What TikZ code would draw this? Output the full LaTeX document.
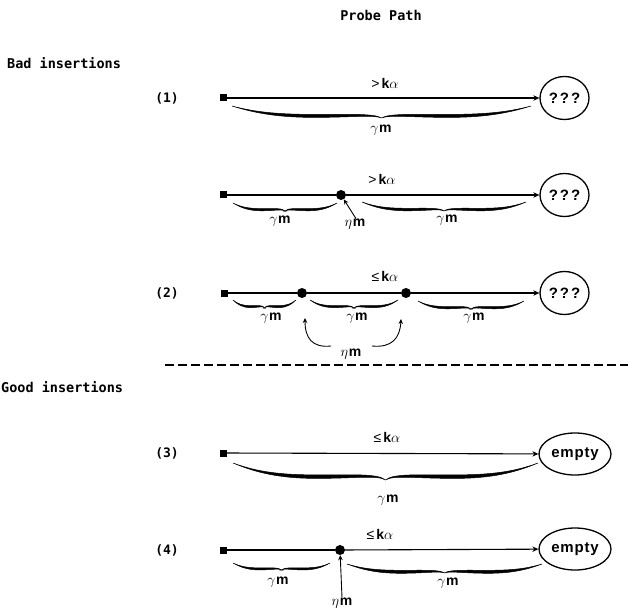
\documentclass[tikz,border=0pt]{standalone}
\usepackage{fontspec}
\usetikzlibrary{arrows.meta,shapes.geometric}
\newfontfamily\monofam{DejaVu Sans Mono}
\newfontfamily\sansfam{Liberation Sans}

% labels set in the probe-path figure
\newcommand\gmlab{$\gamma$\kern0.8pt{\sansfam\bfseries\fontsize{14}{14}\selectfont m}}
\newcommand\etalab{$\eta$\kern0.8pt{\sansfam\bfseries\fontsize{14}{14}\selectfont m}}
\newcommand\gtklab{{\sansfam\fontsize{14}{14}\selectfont >\kern2pt\bfseries k}$\alpha$}
\newcommand\leklab{{\sansfam\fontsize{14}{14}\selectfont ≤\kern2pt\bfseries k}$\alpha$}
\newcommand\unknown{?\kern2pt?\kern2pt?}
\newcommand\emptyslot{e\kern0.8pt m\kern0.8pt p\kern0.8pt t\kern0.8pt y}

% one half of a pen-drawn curly brace: end x, direction, half length, top y, depth, thickness
\newcommand\bracearm[6]{%
 \filldraw[brk] ({#1},{#4})
  .. controls ({#1+(#2)*0.15*#3},{#4+0.5*#5}) and ({#1+(#2)*0.3*#3},{#4+0.7*#5}) .. ({#1+(#2)*0.55*#3},{#4+0.7*#5})
  .. controls ({#1+(#2)*0.8*#3},{#4+0.7*#5}) and ({#1+(#2)*0.95*#3},{#4+0.62*#5}) .. ({#1+(#2)*#3},{#4+#5})
  .. controls ({#1+(#2)*0.95*#3},{#4+0.62*#5+0.4*#6}) and ({#1+(#2)*0.8*#3},{#4+0.7*#5+#6}) .. ({#1+(#2)*0.55*#3},{#4+0.7*#5+#6})
  .. controls ({#1+(#2)*0.3*#3},{#4+0.7*#5+#6}) and ({#1+(#2)*0.15*#3},{#4+0.5*#5+0.3*#6}) .. ({#1},{#4}) -- cycle;}
% full brace: left x, right x, top y, depth, thickness
\newcommand\curlybrace[5]{%
  \pgfmathsetmacro\cbL{(#2-#1)/2}%
  \bracearm{#1}{1}{\cbL}{#3}{#4}{#5}%
  \bracearm{#2}{-1}{\cbL}{#3}{#4}{#5}}

\tikzset{
 lbl/.style={font=\monofam\bfseries\fontsize{13.5}{13.5}\selectfont, inner sep=0},
 tag/.style={font=\monofam\bfseries\fontsize{13}{13}\selectfont, inner sep=0},
 sym/.style={inner sep=0, font=\fontsize{15}{15}\selectfont},
 endbox/.style={draw, ellipse, line width=1.3pt, inner sep=0, minimum width=49pt, minimum height=43pt,
   font=\sansfam\bfseries\fontsize{15}{15}\selectfont},
 emptybox/.style={endbox, minimum width=72pt, minimum height=42pt, font=\sansfam\bfseries\fontsize{15}{15}\selectfont},
 startsq/.style={fill, rectangle, minimum size=7pt, inner sep=0},
 pdot/.style={fill, circle, minimum size=10pt, inner sep=0},
 probe/.style={line width=1.1pt},
 probeend/.style={probe, -{Stealth[length=6pt,width=5.5pt]}},
 pointer/.style={line width=0.9pt, -{Stealth[length=5pt,width=4.5pt]}},
 brk/.style={line width=0.5pt},
 divider/.style={line width=1.1pt, dash pattern=on 9pt off 4pt},
}

\begin{document}
\begin{tikzpicture}[x=1pt,y=-1pt]
\useasboundingbox (0,0) rectangle (628,612);

\node[lbl] (title) at (381,15) {Probe Path};
\node[lbl, anchor=west] (bad) at (7,63) {Bad insertions};

% (1) a single long probe
\node[tag] (n1) at (167,98) {(1)};
\node[startsq] (s1) at (223,98) {};
\node[endbox] (q1) at (564.5,98) {\unknown};
\draw[probeend] (s1) -- (q1);
\node[sym] (k1) at (385,83) {\gtklab};
\curlybrace{232}{531}{106}{12}{3}
\node[sym] (g1) at (381,130) {\gmlab};

% long probe with one inserted element
\node[startsq] (s2) at (223,195) {};
\node[pdot] (d2) at (341,195) {};
\node[endbox] (q2) at (564.5,195) {\unknown};
\draw[probe] (s2) -- (d2);
\draw[probeend] (d2) -- (q2);
\node[sym] (k2) at (382,179) {\gtklab};
\curlybrace{233}{337}{203}{8}{2.2}
\node[sym] (g2a) at (280,221) {\gmlab};
\curlybrace{362}{526}{202}{9}{2.5}
\node[sym] (g2b) at (447,220) {\gmlab};
\node[sym] (e2) at (355,224) {\etalab};
\draw[pointer] ([xshift=1pt]e2.north) -- (d2);

% (2) short probe with two inserted elements
\node[tag] (n3) at (167,293) {(2)};
\node[startsq] (s3) at (224,293) {};
\node[pdot] (d3a) at (302,293) {};
\node[pdot] (d3b) at (406,293) {};
\node[endbox] (q3) at (564.5,293) {\unknown};
\draw[probe] (s3) -- (d3a);
\draw[probe] (d3a) -- (d3b);
\draw[probeend] (d3b) -- (q3);
\node[sym] (k3) at (385,276) {\leklab};
\curlybrace{233}{296}{300}{8}{2}
\curlybrace{310}{398}{300}{8}{2}
\curlybrace{418}{524}{301}{8}{2.2}
\node[sym] (g3a) at (271,318) {\gmlab};
\node[sym] (g3b) at (357,318) {\gmlab};
\node[sym] (g3c) at (474,318) {\gmlab};
\node[sym] (e3) at (351,354) {\etalab};
\coordinate (e3l) at (331,346);
\coordinate (e3r) at (372,346);
\coordinate (t3a) at (305,318);
\coordinate (t3b) at (401,319);
\draw[pointer] (e3l) .. controls (312,348) and (305,338) .. (t3a);
\draw[pointer] (e3r) .. controls (392,348) and (400,338) .. (t3b);

% divider between the two groups
\coordinate (dl) at (165,365);
\coordinate (dr) at (628,365);
\draw[divider] (dl) -- (dr);

\node[lbl, anchor=west] (good) at (1,387) {Good insertions};

% (3) short probe ending in an empty slot
\node[tag] (n4) at (167,453) {(3)};
\node[startsq] (s4) at (223,453) {};
\node[emptybox] (q4) at (575,454) {\emptyslot};
\draw[probeend] (s4) -- (q4);
\node[sym] (k4) at (387,437) {\leklab};
\curlybrace{233}{538}{463}{17}{3.5}
\node[sym] (g4) at (388,500) {\gmlab};

% (4) short probe with one insertion ending in an empty slot
\node[tag] (n5) at (167,550) {(4)};
\node[startsq] (s5) at (223,550) {};
\node[pdot] (d5) at (340,550) {};
\node[emptybox] (q5) at (575,549) {\emptyslot};
\draw[probe] (s5) -- (d5);
\draw[probeend] (d5) -- (q5);
\node[sym] (k5) at (380,534) {\leklab};
\curlybrace{233}{330}{563}{7}{2}
\node[sym] (g5a) at (278,582) {\gmlab};
\curlybrace{347}{542}{564}{9}{3}
\node[sym] (g5b) at (448,583) {\gmlab};
\node[sym] (e5) at (342,603) {\etalab};
\draw[pointer] (e5.north) -- (d5);
\end{tikzpicture}
\end{document}
